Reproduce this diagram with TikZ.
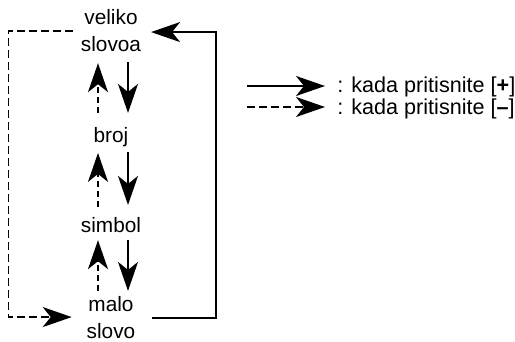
\documentclass[tikz,border=0pt]{standalone}
\usepackage{fontspec}
\setmainfont{Liberation Sans}
\usetikzlibrary{arrows.meta}
\begin{document}
\begin{tikzpicture}[x=0.5pt, y=-0.5pt,
    mode/.style={font=\fontsize{10.4}{13.5}\selectfont, align=center, inner sep=0pt, outer sep=0pt},
    legtext/.style={font=\fontsize{10.8}{13.5}\selectfont, inner sep=0pt, anchor=base west},
    plusarr/.style={-{Stealth[length=14.5pt, width=10pt, inset=4pt]}, line width=0.85pt},
    minusarr/.style={plusarr, dash pattern=on 4pt off 2pt},
    minussmall/.style={plusarr, dash pattern=on 3pt off 2pt}]
    \useasboundingbox (0,0) rectangle (515,342);

    % Načini unosa
    \node[mode, anchor=base] (vs) at (111,52) {veliko\\slovoa};
    \node[mode, anchor=base] (br) at (111,143) {broj};
    \node[mode, anchor=base] (sb) at (111,233) {simbol};
    \node[mode, anchor=base] (ms) at (111,339) {malo\\slovo};

    % Strelice prema dolje: [+]
    \draw[plusarr, shorten <=5pt, shorten >=7.5pt] ([xshift=8.5pt]vs.south) -- ([xshift=8.5pt]br.north);
    \draw[plusarr, shorten <=2.3pt, shorten >=6.5pt] ([xshift=8.5pt]br.south) -- ([xshift=8.5pt]sb.north);
    \draw[plusarr, shorten <=3.5pt, shorten >=3pt] ([xshift=8.5pt]sb.south) -- ([xshift=8.5pt]ms.north);
    \draw[plusarr] ([xshift=8.5pt]ms.east) -- ++(64,0) |- ([xshift=5pt, yshift=-0.5pt]vs.east);

    % Strelice prema gore: [-]
    \draw[minussmall, shorten <=7.5pt, shorten >=5.5pt] ([xshift=-6.5pt]br.north) -- ([xshift=-6.5pt]vs.south);
    \draw[minussmall, shorten <=5.5pt, shorten >=2.8pt] ([xshift=-6.5pt]sb.north) -- ([xshift=-6.5pt]br.south);
    \draw[minussmall, shorten <=3pt, shorten >=3.5pt] ([xshift=-6.5pt]ms.north) -- ([xshift=-6.5pt]sb.south);
    \draw[minusarr] ([xshift=-3.75pt]vs.west) -- ++(-65,0) |- ([xshift=-7.5pt, yshift=0.5pt]ms.west);

    % Legenda
    \coordinate (p1) at (247,86);
    \coordinate (p2) at (325,86);
    \coordinate (m1) at (247,107);
    \coordinate (m2) at (325,107);
    \draw[plusarr] (p1) -- (p2);
    \draw[minusarr] (m1) -- (m2);
    \node[legtext] (lp) at (337,93) {: kada pritisnite [\textbf{+}]};
    \node[legtext] (lm) at (337,115) {: kada pritisnite [\textbf{--}]};
\end{tikzpicture}
\end{document}
